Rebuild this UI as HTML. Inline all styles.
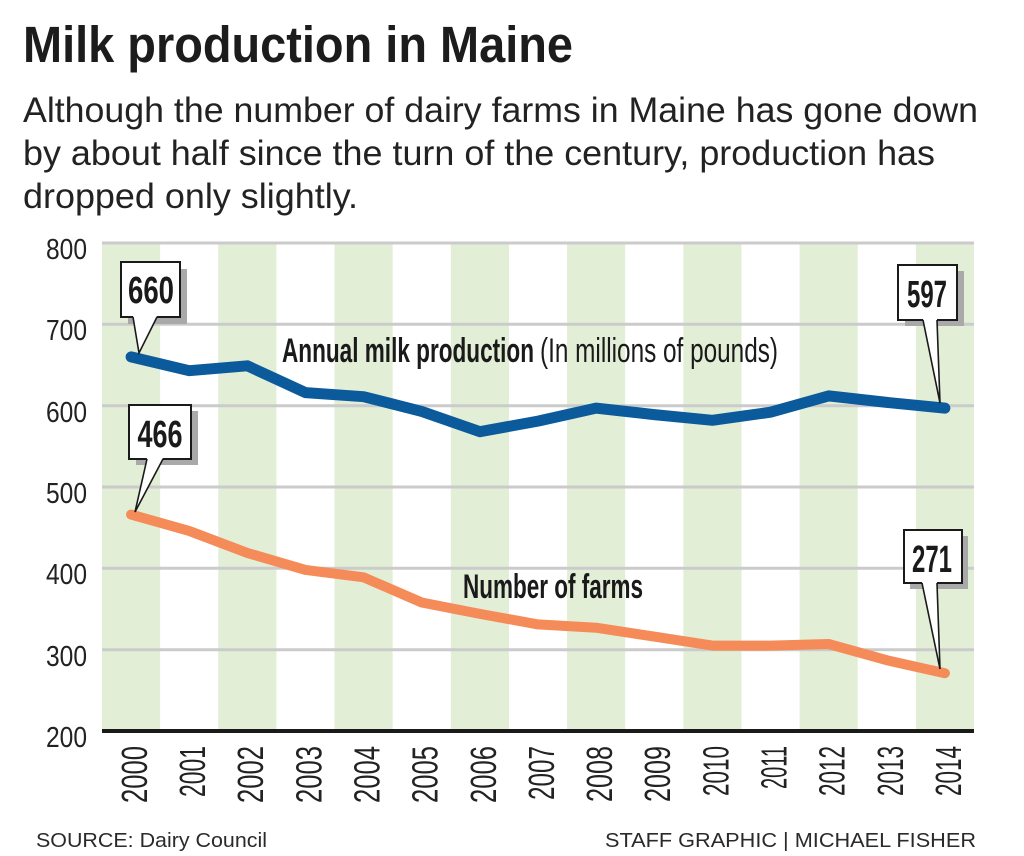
<!DOCTYPE html>
<html><head><meta charset="utf-8"><style>
html,body{margin:0;padding:0;background:#fff;}
svg{display:block;}
</style></head><body>
<svg width="1024" height="856" viewBox="0 0 1024 856" xmlns="http://www.w3.org/2000/svg">
<rect width="1024" height="856" fill="#fff"/>
<text x="23" y="62" font-family="Liberation Sans, sans-serif" font-weight="bold" font-size="51" fill="#1c1c1c" textLength="550" lengthAdjust="spacingAndGlyphs">Milk production in Maine</text>
<g font-family="Liberation Sans, sans-serif" font-size="35" fill="#222">
<text x="23" y="122" textLength="955" lengthAdjust="spacingAndGlyphs">Although the number of dairy farms in Maine has gone down</text>
<text x="23" y="165" textLength="912" lengthAdjust="spacingAndGlyphs">by about half since the turn of the century, production has</text>
<text x="23" y="208" textLength="335" lengthAdjust="spacingAndGlyphs">dropped only slightly.</text>
</g>
<g fill="#e2eed6">
<rect x="102" y="243" width="58.13" height="488"/>
<rect x="218.27" y="243" width="58.13" height="488"/>
<rect x="334.53" y="243" width="58.13" height="488"/>
<rect x="450.8" y="243" width="58.13" height="488"/>
<rect x="567.07" y="243" width="58.13" height="488"/>
<rect x="683.33" y="243" width="58.13" height="488"/>
<rect x="799.6" y="243" width="58.13" height="488"/>
<rect x="915.87" y="243" width="58.13" height="488"/>
</g>
<g stroke="#cbcbcb" stroke-width="3">
<line x1="102" y1="243" x2="974" y2="243"/>
<line x1="102" y1="324.3" x2="974" y2="324.3"/>
<line x1="102" y1="405.7" x2="974" y2="405.7"/>
<line x1="102" y1="487" x2="974" y2="487"/>
<line x1="102" y1="568.3" x2="974" y2="568.3"/>
<line x1="102" y1="649.7" x2="974" y2="649.7"/>
</g>
<line x1="102" y1="731" x2="974" y2="731" stroke="#1a1a1a" stroke-width="4"/>
<g font-family="Liberation Sans Narrow, Liberation Sans, sans-serif" font-size="29" fill="#222" text-anchor="end">
<text x="87" y="259" textLength="41" lengthAdjust="spacingAndGlyphs">800</text>
<text x="87" y="340" textLength="41" lengthAdjust="spacingAndGlyphs">700</text>
<text x="87" y="422" textLength="41" lengthAdjust="spacingAndGlyphs">600</text>
<text x="87" y="503" textLength="41" lengthAdjust="spacingAndGlyphs">500</text>
<text x="87" y="584" textLength="41" lengthAdjust="spacingAndGlyphs">400</text>
<text x="87" y="666" textLength="41" lengthAdjust="spacingAndGlyphs">300</text>
<text x="87" y="747" textLength="41" lengthAdjust="spacingAndGlyphs">200</text>
</g>
<g font-family="Liberation Sans Narrow, Liberation Sans, sans-serif" font-size="36" fill="#222" text-anchor="end">
<text transform="translate(147,746) rotate(-90)" textLength="57" lengthAdjust="spacingAndGlyphs">2000</text>
<text transform="translate(205,746) rotate(-90)" textLength="51" lengthAdjust="spacingAndGlyphs">2001</text>
<text transform="translate(263,746) rotate(-90)" textLength="57" lengthAdjust="spacingAndGlyphs">2002</text>
<text transform="translate(321.5,746) rotate(-90)" textLength="57" lengthAdjust="spacingAndGlyphs">2003</text>
<text transform="translate(379.6,746) rotate(-90)" textLength="57" lengthAdjust="spacingAndGlyphs">2004</text>
<text transform="translate(437.7,746) rotate(-90)" textLength="57" lengthAdjust="spacingAndGlyphs">2005</text>
<text transform="translate(495.9,746) rotate(-90)" textLength="57" lengthAdjust="spacingAndGlyphs">2006</text>
<text transform="translate(554,746) rotate(-90)" textLength="54" lengthAdjust="spacingAndGlyphs">2007</text>
<text transform="translate(612.1,746) rotate(-90)" textLength="56" lengthAdjust="spacingAndGlyphs">2008</text>
<text transform="translate(670.2,746) rotate(-90)" textLength="56" lengthAdjust="spacingAndGlyphs">2009</text>
<text transform="translate(728.4,746) rotate(-90)" textLength="50" lengthAdjust="spacingAndGlyphs">2010</text>
<text transform="translate(786.5,746) rotate(-90)" textLength="43" lengthAdjust="spacingAndGlyphs">2011</text>
<text transform="translate(844.6,746) rotate(-90)" textLength="50" lengthAdjust="spacingAndGlyphs">2012</text>
<text transform="translate(902.8,746) rotate(-90)" textLength="50" lengthAdjust="spacingAndGlyphs">2013</text>
<text transform="translate(960.9,746) rotate(-90)" textLength="50" lengthAdjust="spacingAndGlyphs">2014</text>
</g>
<g font-family="Liberation Sans Narrow, Liberation Sans, sans-serif" font-size="34" fill="#1a1a1a">
<text x="282" y="362" font-weight="bold" textLength="252" lengthAdjust="spacingAndGlyphs">Annual milk production</text>
<text x="540" y="362" textLength="238" lengthAdjust="spacingAndGlyphs">(In millions of pounds)</text>
<text x="463" y="598" font-weight="bold" textLength="180" lengthAdjust="spacingAndGlyphs">Number of farms</text>
</g>
<polyline fill="none" stroke="#0b5a9b" stroke-width="11" stroke-linecap="round" stroke-linejoin="round" points="131.1,356.9 189.2,370.7 247.3,365.8 305.5,392.6 363.6,396.7 421.7,411.4 479.9,431.7 538,421.1 596.1,408.1 654.2,414.6 712.4,420.3 770.5,412.2 828.6,395.9 886.8,402.4 944.9,408.1"/>
<polyline fill="none" stroke="#f58b58" stroke-width="10" stroke-linecap="round" stroke-linejoin="round" points="131.1,514.6 189.2,530.9 247.3,552.9 305.5,569.9 363.6,577.3 421.7,602.5 479.9,613.9 538,624.4 596.1,627.7 654.2,636.6 712.4,645.6 770.5,645.6 828.6,644 886.8,660.2 944.9,673.2"/>
<g font-family="Liberation Sans Narrow, Liberation Sans, sans-serif" font-weight="bold" font-size="38" fill="#1a1a1a" text-anchor="middle">
<!-- 660 -->
<rect x="128" y="269" width="59" height="55" fill="#a9a9a9"/>
<rect x="121" y="262" width="59" height="55" fill="#fff" stroke="#1a1a1a" stroke-width="2"/>
<polygon points="133,316 157,316 139,353" fill="#fff"/>
<polyline points="133,317 139,353 157,317" fill="none" stroke="#1a1a1a" stroke-width="1.6"/>
<text x="151" y="303" textLength="46" lengthAdjust="spacingAndGlyphs">660</text>
<!-- 466 -->
<rect x="136" y="411" width="62" height="54" fill="#a9a9a9"/>
<rect x="129" y="405" width="62" height="54" fill="#fff" stroke="#1a1a1a" stroke-width="2"/>
<polygon points="147,458 163,458 135,512" fill="#fff"/>
<polyline points="147,459 135,512 163,459" fill="none" stroke="#1a1a1a" stroke-width="1.6"/>
<text x="160" y="447" textLength="45" lengthAdjust="spacingAndGlyphs">466</text>
<!-- 597 -->
<rect x="905" y="271" width="59" height="55" fill="#a9a9a9"/>
<rect x="898" y="265" width="59" height="55" fill="#fff" stroke="#1a1a1a" stroke-width="2"/>
<polygon points="923,319 937,319 940,403" fill="#fff"/>
<polyline points="923,320 940,403 937,320" fill="none" stroke="#1a1a1a" stroke-width="1.6"/>
<text x="927" y="307" textLength="40" lengthAdjust="spacingAndGlyphs">597</text>
<!-- 271 -->
<rect x="910" y="536" width="58" height="53" fill="#a9a9a9"/>
<rect x="904" y="530" width="58" height="53" fill="#fff" stroke="#1a1a1a" stroke-width="2"/>
<polygon points="922,582 937,582 940,669" fill="#fff"/>
<polyline points="922,583 940,669 937,583" fill="none" stroke="#1a1a1a" stroke-width="1.6"/>
<text x="932" y="572" textLength="40" lengthAdjust="spacingAndGlyphs">271</text>
</g>
<g font-family="Liberation Sans, sans-serif" font-size="20" fill="#2a2a2a">
<text x="36" y="847" textLength="231" lengthAdjust="spacingAndGlyphs">SOURCE: Dairy Council</text>
<text x="605" y="847" textLength="371" lengthAdjust="spacingAndGlyphs">STAFF GRAPHIC | MICHAEL FISHER</text>
</g>
</svg>
</body></html>
